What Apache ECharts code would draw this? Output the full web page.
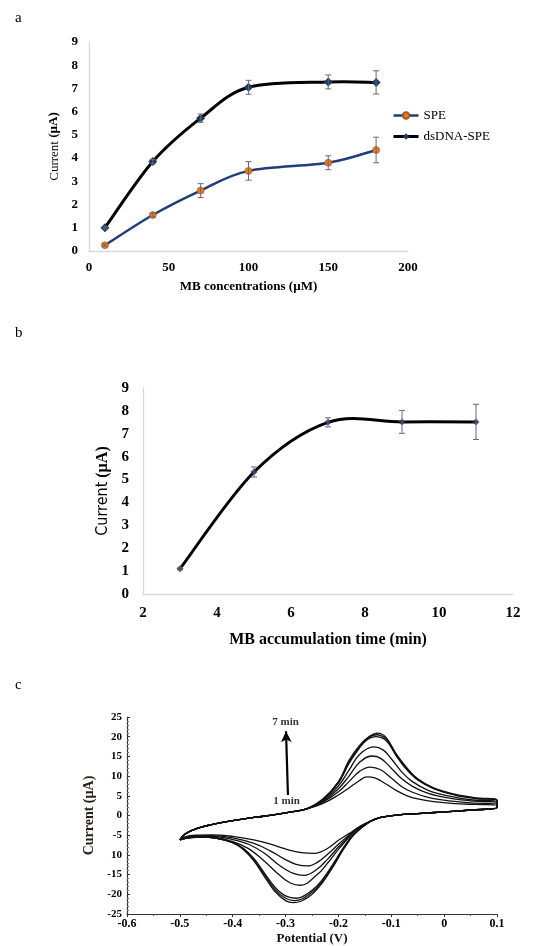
<!DOCTYPE html>
<html>
<head>
<meta charset="utf-8">
<script src="https://cdn.jsdelivr.net/npm/echarts@6/dist/echarts.min.js"></script>
<style>
  html, body { margin: 0; padding: 0; background: #fff; }
  #chart { width: 551px; height: 946px; }
</style>
</head>
<body>
<div id="chart"></div>
<script>
// ---------------- panel a : MB concentration ---------------- //
const concX = [10, 40, 70, 100, 150, 180]
const speY = [0.25, 1.55, 2.6, 3.45, 3.8, 4.35]
const speErr = [0.05, 0.08, 0.3, 0.4, 0.3, 0.55]
const dnaY = [1.0, 3.85, 5.72, 7.05, 7.28, 7.26]
const dnaErr = [0.05, 0.1, 0.18, 0.3, 0.3, 0.5]

// ---------------- panel b : accumulation time ---------------- //
const timeX = [3, 5, 7, 9, 11]
const timeY = [1.1, 5.33, 7.5, 7.52, 7.52]
const timeErr = [0.05, 0.22, 0.2, 0.5, 0.77]

// ---------------- panel c : cyclic voltammograms ---------------- //
// shared start of the forward scan and shared start of the reverse scan
const cvUpperStart = [[-0.5, -6.2], [-0.49, -4.7], [-0.47, -3.4], [-0.44, -2.3], [-0.40, -1.3],
  [-0.36, -0.5], [-0.32, 0.2], [-0.29, 0.9], [-0.26, 1.7]]
const cvLowerStart = [[0.1, 2.0], [0.05, 1.4], [0, 0.9], [-0.05, 0.5], [-0.09, 0.1], [-0.12, -0.5], [-0.14, -1.5]]

const cvAnodic1 = [[-0.23, 3.0], [-0.20, 5.2], [-0.18, 7.0], [-0.16, 8.9], [-0.146, 9.8], [-0.13, 9.5], [-0.11, 8.0],
  [-0.09, 6.3], [-0.07, 5.0], [-0.05, 4.2], [-0.02, 3.5], [0.02, 3.0], [0.06, 2.8], [0.1, 2.6]]
const cvAnodic2 = [[-0.23, 3.3], [-0.20, 6.0], [-0.18, 8.6], [-0.16, 11.2], [-0.14, 12.3], [-0.12, 11.6], [-0.10, 9.5],
  [-0.08, 7.3], [-0.06, 5.9], [-0.03, 4.6], [0.01, 3.7], [0.05, 3.2], [0.1, 2.9]]
const cvAnodic3 = [[-0.23, 3.5], [-0.20, 6.8], [-0.18, 10.0], [-0.16, 13.5], [-0.137, 15.1], [-0.12, 14.5], [-0.10, 12.0],
  [-0.08, 9.3], [-0.06, 7.4], [-0.03, 5.6], [0.01, 4.4], [0.05, 3.7], [0.1, 3.2]]
const cvAnodic4 = [[-0.23, 3.7], [-0.20, 7.5], [-0.18, 11.5], [-0.16, 15.5], [-0.133, 17.4], [-0.115, 16.6], [-0.10, 14.4],
  [-0.08, 11.0], [-0.06, 8.6], [-0.03, 6.4], [0.01, 4.9], [0.05, 4.0], [0.1, 3.5]]
const cvAnodic5 = [[-0.23, 3.9], [-0.20, 8.2], [-0.18, 13.2], [-0.16, 17.2], [-0.145, 19.3], [-0.13, 20.0], [-0.11, 19.0],
  [-0.09, 15.0], [-0.07, 11.5], [-0.05, 9.0], [-0.02, 6.8], [0.02, 5.2], [0.06, 4.3], [0.1, 3.8]]
const cvAnodic6 = [[-0.23, 4.0], [-0.20, 8.4], [-0.18, 13.6], [-0.16, 17.4], [-0.143, 19.8], [-0.128, 20.5], [-0.11, 19.4],
  [-0.09, 15.3], [-0.07, 11.8], [-0.05, 9.2], [-0.02, 6.9], [0.02, 5.3], [0.06, 4.4], [0.1, 3.9]]
const cvAnodic7 = [[-0.23, 4.1], [-0.20, 8.6], [-0.18, 14.0], [-0.16, 17.8], [-0.14, 20.2], [-0.126, 20.9], [-0.11, 19.8],
  [-0.09, 15.5], [-0.07, 12.0], [-0.05, 9.3], [-0.02, 7.0], [0.02, 5.4], [0.06, 4.5], [0.1, 4.0]]

const cvCathodic1 = [[-0.16, -2.8], [-0.18, -4.6], [-0.20, -6.3], [-0.22, -8.3], [-0.245, -9.6], [-0.27, -9.4],
  [-0.30, -8.5], [-0.33, -7.2], [-0.36, -6.2], [-0.40, -5.3], [-0.44, -4.9], [-0.47, -5.0], [-0.49, -5.4], [-0.5, -6.2]]
const cvCathodic2 = [[-0.16, -2.9], [-0.18, -5.0], [-0.20, -7.3], [-0.22, -9.8], [-0.24, -11.9], [-0.258, -12.8], [-0.28, -12.4],
  [-0.30, -11.2], [-0.33, -8.9], [-0.36, -7.1], [-0.40, -5.7], [-0.44, -5.1], [-0.47, -5.2], [-0.49, -5.6], [-0.5, -6.2]]
const cvCathodic3 = [[-0.16, -2.9], [-0.18, -5.3], [-0.20, -8.0], [-0.22, -11.0], [-0.24, -13.6], [-0.265, -15.2], [-0.285, -14.7],
  [-0.31, -12.8], [-0.34, -9.6], [-0.37, -7.3], [-0.40, -6.1], [-0.44, -5.3], [-0.47, -5.3], [-0.49, -5.7], [-0.5, -6.2]]
const cvCathodic4 = [[-0.16, -3.0], [-0.18, -5.6], [-0.20, -8.6], [-0.22, -12.0], [-0.24, -15.0], [-0.272, -17.7], [-0.29, -17.2],
  [-0.31, -15.3], [-0.34, -11.6], [-0.37, -8.4], [-0.40, -6.6], [-0.44, -5.5], [-0.47, -5.4], [-0.49, -5.8], [-0.5, -6.2]]
const cvCathodic5 = [[-0.17, -4.6], [-0.19, -8.0], [-0.21, -12.3], [-0.23, -16.2], [-0.25, -19.0], [-0.28, -21.0], [-0.30, -20.4],
  [-0.32, -18.2], [-0.34, -14.6], [-0.36, -10.9], [-0.38, -8.3], [-0.40, -6.8], [-0.43, -5.8], [-0.46, -5.5], [-0.48, -5.6], [-0.5, -6.2]]
const cvCathodic6 = [[-0.17, -4.7], [-0.19, -8.3], [-0.21, -12.7], [-0.23, -16.6], [-0.25, -19.5], [-0.283, -21.6], [-0.30, -21.0],
  [-0.32, -18.8], [-0.34, -15.0], [-0.36, -11.2], [-0.38, -8.5], [-0.40, -6.9], [-0.43, -5.8], [-0.46, -5.5], [-0.48, -5.6], [-0.5, -6.2]]
const cvCathodic7 = [[-0.17, -4.8], [-0.19, -8.5], [-0.21, -13.0], [-0.23, -17.0], [-0.25, -20.0], [-0.27, -21.7], [-0.286, -22.1],
  [-0.30, -21.6], [-0.32, -19.3], [-0.34, -15.5], [-0.36, -11.5], [-0.38, -8.6], [-0.40, -6.9], [-0.43, -5.8], [-0.46, -5.5], [-0.48, -5.6], [-0.5, -6.2]]

const cvAnodic = [cvAnodic1, cvAnodic2, cvAnodic3, cvAnodic4, cvAnodic5, cvAnodic6, cvAnodic7]
const cvCathodic = [cvCathodic1, cvCathodic2, cvCathodic3, cvCathodic4, cvCathodic5, cvCathodic6, cvCathodic7]

const cvXLabels = ['-0.6', '-0.5', '-0.4', '-0.3', '-0.2', '-0.1', '0', '0.1']
const cvYLabels = ['-25', '-20', '-15', '10', '-5', '0', '5', '10', '15', '20', '25']

// ---------------- helpers ---------------- //
const serif = "'Liberation Serif', 'Times New Roman', serif"

const errorBar = (params, api) => {
  const x = api.value(0)
  const y = api.value(1)
  const e = api.value(2)
  const top = api.coord([x, y + e])
  const bot = api.coord([x, y - e])
  const w = 3
  const st = { stroke: '#6b6b6b', lineWidth: 1 }
  return {
    type: 'group',
    children: [
      { type: 'line', shape: { x1: top[0], y1: top[1], x2: bot[0], y2: bot[1] }, style: st },
      { type: 'line', shape: { x1: top[0] - w, y1: top[1], x2: top[0] + w, y2: top[1] }, style: st },
      { type: 'line', shape: { x1: bot[0] - w, y1: bot[1], x2: bot[0] + w, y2: bot[1] }, style: st }
    ]
  }
}

// spreadsheet-like smoothed line (cardinal spline) through the data points
const smoothLine = (color, width) => (params, api) => {
  const i = params.dataIndexInside
  const n = params.dataInsideLength
  if (i >= n - 1) return null
  const pt = (k) => {
    const j = Math.min(Math.max(k, 0), n - 1)
    return api.coord([api.value(0, j), api.value(1, j)])
  }
  const p0 = pt(i - 1), p1 = pt(i), p2 = pt(i + 1), p3 = pt(i + 2)
  return {
    type: 'bezierCurve',
    shape: {
      x1: p1[0], y1: p1[1], x2: p2[0], y2: p2[1],
      cpx1: p1[0] + (p2[0] - p0[0]) / 6, cpy1: p1[1] + (p2[1] - p0[1]) / 6,
      cpx2: p2[0] - (p3[0] - p1[0]) / 6, cpy2: p2[1] - (p3[1] - p1[1]) / 6
    },
    style: { fill: null, stroke: color, lineWidth: width, lineCap: 'round' }
  }
}

const lightAxis = { show: true, lineStyle: { color: '#d9d9d9', width: 1.3 } }
const boldLabel = (size, margin) => ({ fontFamily: serif, fontWeight: 'bold', fontSize: size, color: '#000', margin })

const cvSeries = cvAnodic.map((a, i) => ({
  type: 'line',
  xAxisIndex: 2,
  yAxisIndex: 2,
  data: cvUpperStart.concat(a, cvLowerStart, cvCathodic[i]),
  smooth: 0.4,
  showSymbol: false,
  symbol: 'none',
  lineStyle: { color: '#111', width: 1.3 },
  silent: true
}))

cvSeries[0].markLine = {
  silent: true,
  symbol: ['none', 'arrow'],
  symbolSize: [8, 11],
  lineStyle: { color: '#000', width: 2.2, type: 'solid' },
  label: { show: false },
  data: [[{ coord: [-0.2955, 5.2] }, { coord: [-0.2992, 21.4] }]]
}

const option = {
  animation: false,
  title: [
    { text: 'a', left: 10, top: 6, textStyle: { fontFamily: serif, fontWeight: 'normal', fontSize: 15, color: '#000' } },
    { text: 'b', left: 10, top: 321, textStyle: { fontFamily: serif, fontWeight: 'normal', fontSize: 15, color: '#000' } },
    { text: 'c', left: 10, top: 673, textStyle: { fontFamily: serif, fontWeight: 'normal', fontSize: 15, color: '#000' } }
  ],
  legend: {
    data: [
      { name: 'SPE', lineStyle: { color: '#1f3d7a', width: 2.5, opacity: 1 } },
      { name: 'dsDNA-SPE', lineStyle: { color: '#000', width: 3, opacity: 1 } }
    ],
    orient: 'vertical',
    left: 387,
    top: 104,
    itemWidth: 25,
    itemHeight: 8,
    itemGap: 8,
    textStyle: { fontFamily: serif, fontSize: 13, color: '#000' }
  },
  grid: [
    { left: 89, top: 42, width: 319, height: 209 },
    { left: 143, top: 388, width: 370, height: 206 },
    { left: 127, top: 717, width: 370, height: 197 }
  ],
  xAxis: [
    {
      gridIndex: 0, type: 'value', min: 0, max: 200, interval: 50,
      axisLine: lightAxis, axisTick: { show: false }, splitLine: { show: false },
      axisLabel: boldLabel(13, 10),
      name: 'MB concentrations (µM)', nameLocation: 'middle', nameGap: 29,
      nameTextStyle: { fontFamily: serif, fontWeight: 'bold', fontSize: 13, color: '#000' }
    },
    {
      gridIndex: 1, type: 'value', min: 2, max: 12, interval: 2,
      axisLine: lightAxis, axisTick: { show: false }, splitLine: { show: false },
      axisLabel: boldLabel(15, 12),
      name: 'MB accumulation time (min)', nameLocation: 'middle', nameGap: 38,
      nameTextStyle: { fontFamily: serif, fontWeight: 'bold', fontSize: 16, color: '#000' }
    },
    {
      gridIndex: 2, type: 'value', min: -0.6, max: 0.1, interval: 0.1,
      axisLine: { show: true, onZero: false, lineStyle: { color: '#333', width: 1.2 } },
      axisTick: { show: true, length: 3, lineStyle: { color: '#333' } },
      minorTick: { show: true, splitNumber: 2, length: 2, lineStyle: { color: '#555' } },
      splitLine: { show: false },
      axisLabel: Object.assign(boldLabel(12, 4), {
        formatter: (v) => cvXLabels[Math.round((v + 0.6) * 10)]
      }),
      name: 'Potential (V)', nameLocation: 'middle', nameGap: 18,
      nameTextStyle: { fontFamily: serif, fontWeight: 'bold', fontSize: 13, color: '#111' }
    }
  ],
  yAxis: [
    {
      gridIndex: 0, type: 'value', min: 0, max: 9, interval: 1,
      axisLine: lightAxis, axisTick: { show: false }, splitLine: { show: false },
      axisLabel: boldLabel(13, 11),
      name: '{r|Current}{b| (µA)}', nameLocation: 'middle', nameGap: 21,
      nameTextStyle: {
        fontFamily: serif, fontSize: 13, color: '#000',
        rich: {
          r: { fontFamily: serif, fontSize: 13, color: '#000' },
          b: { fontFamily: serif, fontSize: 13, fontWeight: 'bold', color: '#000' }
        }
      }
    },
    {
      gridIndex: 1, type: 'value', min: 0, max: 9, interval: 1,
      axisLine: lightAxis, axisTick: { show: false }, splitLine: { show: false },
      axisLabel: boldLabel(15, 14),
      name: '{r|Current}{b| (µA)}', nameLocation: 'middle', nameGap: 26,
      nameTextStyle: {
        fontSize: 16, color: '#000',
        rich: {
          r: { fontFamily: "'Liberation Sans Narrow', 'DejaVu Sans Condensed', sans-serif", fontSize: 16, color: '#000' },
          b: { fontFamily: serif, fontSize: 16, fontWeight: 'bold', color: '#000' }
        }
      }
    },
    {
      gridIndex: 2, type: 'value', min: -25, max: 25, interval: 5,
      axisLine: { show: true, onZero: false, lineStyle: { color: '#333', width: 1.2 } },
      axisTick: { show: true, inside: true, length: 3, lineStyle: { color: '#333' } },
      minorTick: { show: true, splitNumber: 5, length: 2, lineStyle: { color: '#777' } },
      splitLine: { show: false },
      axisLabel: Object.assign(boldLabel(11, 5), {
        formatter: (v) => cvYLabels[Math.round((v + 25) / 5)]
      }),
      name: 'Current (µA)', nameLocation: 'middle', nameGap: 22,
      nameTextStyle: { fontFamily: serif, fontWeight: 'bold', fontSize: 14, color: '#2a1f14' }
    }
  ],
  series: [
    {
      type: 'custom', xAxisIndex: 0, yAxisIndex: 0, z: 2, silent: true,
      renderItem: smoothLine('#1f3d7a', 2.5),
      data: concX.map((x, i) => [x, speY[i]])
    },
    {
      type: 'custom', xAxisIndex: 0, yAxisIndex: 0, z: 2, silent: true,
      renderItem: smoothLine('#000', 3),
      data: concX.map((x, i) => [x, dnaY[i]])
    },
    {
      name: 'SPE', type: 'line', xAxisIndex: 0, yAxisIndex: 0, z: 4,
      data: concX.map((x, i) => [x, speY[i]]),
      symbol: 'circle', symbolSize: 7,
      itemStyle: { color: '#e8771f', borderColor: '#a85a1a', borderWidth: 0.6 },
      lineStyle: { color: '#1f3d7a', width: 2.5, opacity: 0 }
    },
    {
      name: 'dsDNA-SPE', type: 'line', xAxisIndex: 0, yAxisIndex: 0, z: 4,
      data: concX.map((x, i) => [x, dnaY[i]]),
      symbol: 'diamond', symbolSize: 9,
      itemStyle: { color: '#1f3864' },
      lineStyle: { color: '#000', width: 3, opacity: 0 }
    },
    {
      type: 'custom', xAxisIndex: 0, yAxisIndex: 0, z: 5, silent: true,
      renderItem: errorBar,
      data: concX.map((x, i) => [x, speY[i], speErr[i]])
    },
    {
      type: 'custom', xAxisIndex: 0, yAxisIndex: 0, z: 5, silent: true,
      renderItem: errorBar,
      data: concX.map((x, i) => [x, dnaY[i], dnaErr[i]])
    },
    {
      type: 'custom', xAxisIndex: 1, yAxisIndex: 1, z: 2, silent: true,
      renderItem: smoothLine('#000', 3),
      data: timeX.map((x, i) => [x, timeY[i]])
    },
    {
      name: 'time', type: 'scatter', xAxisIndex: 1, yAxisIndex: 1, z: 4,
      data: timeX.map((x, i) => [x, timeY[i]]),
      symbol: 'diamond', symbolSize: 7,
      itemStyle: { color: '#1f3864' }
    },
    {
      type: 'custom', xAxisIndex: 1, yAxisIndex: 1, z: 5, silent: true,
      renderItem: errorBar,
      data: timeX.map((x, i) => [x, timeY[i], timeErr[i]])
    },
    ...cvSeries,
    {
      type: 'scatter', xAxisIndex: 2, yAxisIndex: 2, symbolSize: 0, silent: true,
      label: {
        show: true, position: 'inside', formatter: '{b}',
        fontFamily: serif, fontWeight: 'bold', fontSize: 11, color: '#000'
      },
      data: [
        { name: '7 min', value: [-0.3, 23.8] },
        { name: '1 min', value: [-0.298, 3.7] }
      ]
    }
  ]
}

const myChart = echarts.init(document.getElementById('chart'))
myChart.setOption(option)
</script>
</body>
</html>
